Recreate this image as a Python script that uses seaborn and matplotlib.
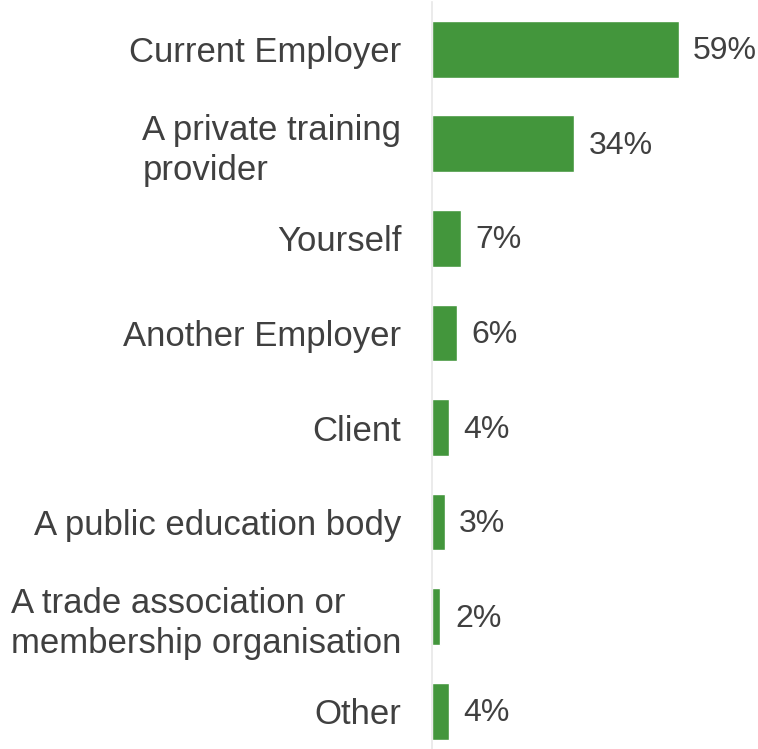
import matplotlib
matplotlib.use("Agg")
import matplotlib.pyplot as plt
import seaborn as sns
import pandas as pd

categories = [
    "Current Employer",
    "A private training\nprovider",
    "Yourself",
    "Another Employer",
    "Client",
    "A public education body",
    "A trade association or\nmembership organisation",
    "Other",
]
values = [59, 34, 7, 6, 4, 3, 2, 4]

df = pd.DataFrame({"source": categories, "share": values})

sns.set_theme(style="white")
plt.rcParams["font.family"] = ["Liberation Sans", "DejaVu Sans"]

bar_color = "#43963C"
text_color = "#404040"

fig = plt.figure(figsize=(7.58, 7.49), dpi=100)
ax = fig.add_axes([432 / 758, 0.0, 1 - 432 / 758, 1 - 2 / 749])

sns.barplot(data=df, x="share", y="source", color=bar_color, width=0.6,
            saturation=1, ax=ax, orient="h")

ax.set_xlim(0, 78)
ax.set_ylim(7.40, -0.5)
ax.set_xlabel("")
ax.set_ylabel("")
ax.set_xticks([])

for s in ["top", "right", "bottom"]:
    ax.spines[s].set_visible(False)
ax.spines["left"].set_color("#E8E8E8")
ax.spines["left"].set_linewidth(1.2)

ax.tick_params(axis="y", length=0, pad=22, labelsize=25, labelcolor=text_color)
for lab in ax.get_yticklabels():
    lab.set_multialignment("left")
    lab.set_linespacing(1.25)

for i, v in enumerate(values):
    ax.annotate(f"{v}%", xy=(v, i), xytext=(10.5, -1.5), textcoords="offset points",
                va="center", ha="left", fontsize=23, color=text_color)

fig.savefig("out.png", dpi=100)
